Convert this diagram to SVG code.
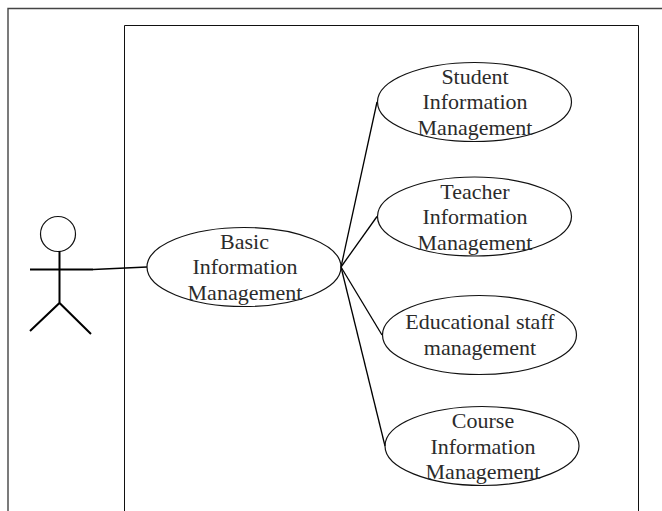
<svg xmlns="http://www.w3.org/2000/svg" width="662" height="511" viewBox="0 0 662 511">
<style>
.frame{fill:none;stroke:#111;stroke-width:1}
.outer{fill:none;stroke:#444;stroke-width:1.4}
.uc{fill:none;stroke:#111;stroke-width:1.2}
.line{fill:none;stroke:#000;stroke-width:1.3}
.body{fill:none;stroke:#000;stroke-width:2}
text{font-family:"Liberation Serif","Times New Roman",serif;font-size:22px;fill:#2b2b2b;text-anchor:middle}
</style>
<rect width="662" height="511" fill="#fff"/>
<path class="outer" d="M8 511V8.500H662"/>
<path class="frame" d="M124.500 511V25.500H638.500V511"/>
<g id="connectors">
<path class="line" d="M93 269.500L147 267"/>
<path class="line" d="M341 267L377 102"/>
<path class="line" d="M341 267L377 216.500"/>
<path class="line" d="M341 267L382 335"/>
<path class="line" d="M341 267L385 446"/>
</g>
<g id="actor">
<circle class="uc" cx="58" cy="234" r="17.500"/>
<path class="body" d="M59.500 251V303M30 269.500H93M30 331L59.500 303L91 334"/>
</g>
<g id="basic">
<ellipse class="uc" cx="244" cy="267" rx="97" ry="39.500"/>
<text x="244.500" y="248.500">Basic</text>
<text x="245" y="274">Information</text>
<text x="245" y="299.500">Management</text>
</g>
<g id="student">
<ellipse class="uc" cx="474.500" cy="102" rx="97" ry="39.500"/>
<text x="475" y="83.500">Student</text>
<text x="475" y="109">Information</text>
<text x="475" y="134.500">Management</text>
</g>
<g id="teacher">
<ellipse class="uc" cx="474.500" cy="216.500" rx="97" ry="39.500"/>
<text x="475" y="198.500">Teacher</text>
<text x="475" y="224">Information</text>
<text x="475" y="249.500">Management</text>
</g>
<g id="staff">
<ellipse class="uc" cx="479.500" cy="335" rx="97" ry="39.500"/>
<text x="480" y="329">Educational staff</text>
<text x="480" y="355">management</text>
</g>
<g id="course">
<ellipse class="uc" cx="482" cy="446" rx="97" ry="39.500"/>
<text x="483" y="428">Course</text>
<text x="483" y="453.500">Information</text>
<text x="483" y="479">Management</text>
</g>
</svg>
